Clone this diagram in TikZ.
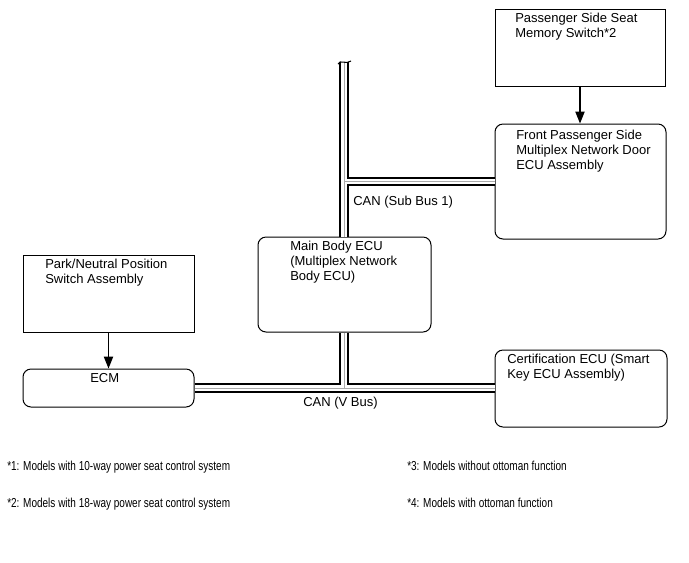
\documentclass[tikz,border=0pt]{standalone}
\usepackage{fontspec}
\setmainfont{Liberation Sans}
\newfontfamily\notefont[FakeStretch=0.77]{Liberation Sans}
\usepackage{tikz}
\usetikzlibrary{arrows.meta, positioning, fit}
\definecolor{mydark}{RGB}{0,0,0}
\definecolor{busgray}{RGB}{170,170,170}
\tikzset{
  box/.style={rectangle, draw=mydark, line width=0.75pt, inner sep=0pt},
  roundbox/.style={box, rounded corners=6pt},
  txt/.style={anchor=north west, inner sep=0pt, align=left,
    font=\fontsize{9.75}{11.25}\selectfont},
  notetxt/.style={anchor=north west, inner sep=0pt,
    font=\notefont\fontsize{9.75}{11.25}\selectfont},
  arrow/.style={-{Triangle[length=9pt, width=7pt]}, line width=0.9pt, color=mydark},
  bus/.style={line width=4.2pt, white,
    preaction={draw, mydark, line width=7pt},
    postaction={draw, busgray, line width=0.6pt}}
}
\begin{document}
\begin{tikzpicture}[x=0.75pt, y=-0.75pt]
  \useasboundingbox (0,0) rectangle (689,562);

  % Seat memory switch
  \node[box, fit={(495,9) (665,86)}] (seatsw) {};
  \node[txt] (seatswtxt) at (515,13) {Passenger Side Seat\\Memory Switch*2};

  % Door ECU
  \node[roundbox, fit={(495,124) (666,239)}] (doorecu) {};
  \node[txt] (doorecutxt) at (516,130) {Front Passenger Side\\Multiplex Network Door\\ECU Assembly};

  % Main body ECU
  \node[roundbox, fit={(258,237) (431,332)}] (mainecu) {};
  \node[txt] (mainecutxt) at (290,241) {Main Body ECU\\(Multiplex Network\\Body ECU)};

  % P/N switch
  \node[box, fit={(23,255) (194,332)}] (pnsw) {};
  \node[txt] (pnswtxt) at (45,259) {Park/Neutral Position\\Switch Assembly};

  % ECM
  \node[roundbox, fit={(23,369) (194,407)}] (ecm) {};
  \node[txt] (ecmtxt) at (90,373) {ECM};

  % Certification ECU
  \node[roundbox, fit={(495,350) (667,427)}] (certecu) {};
  \node[txt] (certecutxt) at (507,354) {Certification ECU (Smart\\Key ECU Assembly)};

  % Signals
  \draw[arrow] (seatsw.south) -- (seatsw.south |- doorecu.north);
  \draw[arrow] (pnsw.south) -- (pnsw.south |- ecm.north);

  % CAN lines
  \coordinate (bustop) at (344,62);
  \draw[bus] (bustop) -- (bustop |- mainecu.north)
    (bustop |- doorecu.west) -- (doorecu.west)
    (bustop |- mainecu.south) -- (bustop |- ecm.east)
    (ecm.east) -- (ecm.east -| certecu.west);
  \draw[line width=0.8pt, mydark] (338,64) .. controls (340,59) and (346,65) .. (351,61);
  \node[txt] (subbus) at (353,196) {CAN (Sub Bus 1)};
  \node[txt] (vbus) at (303,397) {CAN (V Bus)};

  % Notes
  \node[notetxt] (note1) at (7,461) {*1: Models with 10-way power seat control system};
  \node[notetxt] (note2) at (7,498) {*2: Models with 18-way power seat control system};
  \node[notetxt] (note3) at (407,461) {*3: Models without ottoman function};
  \node[notetxt] (note4) at (407,498) {*4: Models with ottoman function};
\end{tikzpicture}
\end{document}
